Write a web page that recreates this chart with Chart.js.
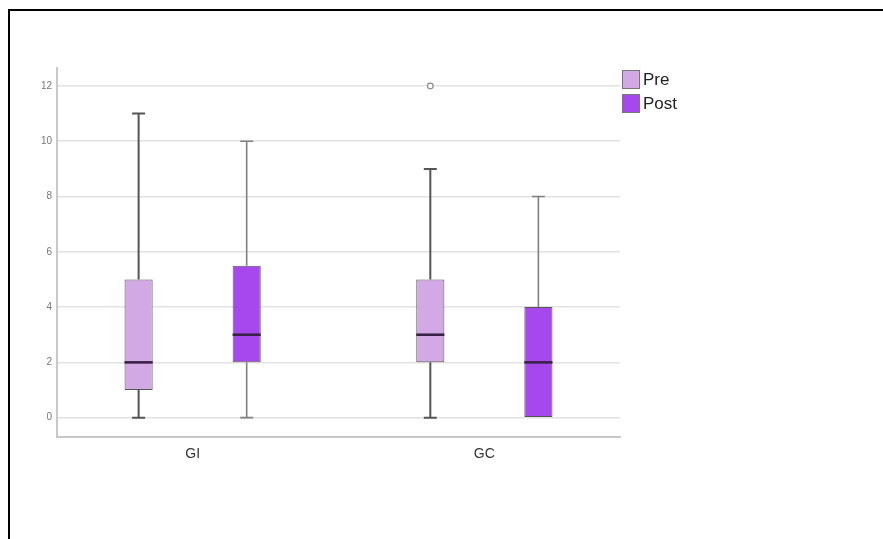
<!DOCTYPE html>
<html>
<head>
<meta charset="utf-8">
<script src="https://cdn.jsdelivr.net/npm/chart.js@4"></script>
<style>
  html, body { margin: 0; padding: 0; background: #fff; }
  #wrap { position: relative; width: 883px; height: 539px; overflow: hidden; }
  #frame { position: absolute; left: 8px; top: 9px; width: 900px; height: 600px;
           border-left: 2px solid #000; border-top: 2px solid #000; pointer-events: none; }
  canvas { position: absolute; left: 0; top: 0; }
</style>
</head>
<body>
<div id="wrap">
  <canvas id="boxChart" width="883" height="539"></canvas>
  <div id="frame"></div>
</div>
<script>
// Données
const groupes = ['GI', 'GC'];
const positions = [1, 2];
const yTicks = [0, 2, 4, 6, 8, 10, 12];

const preMin = [0, 0];
const preQ1 = [1, 2];
const preMedian = [2, 3];
const preQ3 = [5, 5];
const preMax = [11, 9];
const preOutliers = [[], [12]];

const postMin = [0, 0];
const postQ1 = [2, 0];
const postMedian = [3, 2];
const postQ3 = [5.5, 4];
const postMax = [10, 8];
const postOutliers = [[], []];

const fontFamily = '"Liberation Sans", Arial, sans-serif';

function boxData(q1, q3) {
    return positions.map((x, i) => ({ x: x, y: [q1[i], q3[i]] }));
}

// Moustaches, médianes, valeurs aberrantes
const boxplotPlugin = {
    id: 'boxplot',
    beforeDatasetsDraw(chart) {
        const ctx = chart.ctx;
        const y = chart.scales.y;
        chart.data.datasets.forEach((ds, d) => {
            const meta = chart.getDatasetMeta(d);
            meta.data.forEach((bar, i) => {
                const x = bar.x;
                const cap = 13;
                ctx.save();
                ctx.strokeStyle = ds.whiskerColor;
                ctx.lineWidth = ds.whiskerWidth;
                const yMax = y.getPixelForValue(ds.whiskerMax[i]);
                const yQ3 = y.getPixelForValue(ds.data[i].y[1]);
                const yQ1 = y.getPixelForValue(ds.data[i].y[0]);
                const yMin = y.getPixelForValue(ds.whiskerMin[i]);
                ctx.beginPath();
                ctx.moveTo(x, yMax); ctx.lineTo(x, yQ3);
                ctx.moveTo(x - cap / 2, yMax); ctx.lineTo(x + cap / 2, yMax);
                if (ds.whiskerMin[i] < ds.data[i].y[0]) {
                    ctx.moveTo(x, yQ1); ctx.lineTo(x, yMin);
                    ctx.moveTo(x - cap / 2, yMin); ctx.lineTo(x + cap / 2, yMin);
                }
                ctx.stroke();
                ctx.restore();
            });
        });
    },
    afterDatasetsDraw(chart) {
        const ctx = chart.ctx;
        const y = chart.scales.y;
        chart.data.datasets.forEach((ds, d) => {
            const meta = chart.getDatasetMeta(d);
            meta.data.forEach((bar, i) => {
                const x = bar.x;
                const w = bar.width;
                const ym = y.getPixelForValue(ds.medians[i]);
                ctx.save();
                ctx.strokeStyle = '#3a2148';
                ctx.lineWidth = 2.6;
                ctx.beginPath();
                ctx.moveTo(x - w / 2, ym); ctx.lineTo(x + w / 2, ym);
                ctx.stroke();
                ds.outliers[i].forEach(v => {
                    ctx.beginPath();
                    ctx.arc(x, y.getPixelForValue(v), 2.8, 0, Math.PI * 2);
                    ctx.fillStyle = '#fff';
                    ctx.fill();
                    ctx.strokeStyle = '#888';
                    ctx.lineWidth = 1.2;
                    ctx.stroke();
                });
                ctx.restore();
            });
        });
    },
    afterDraw(chart) {
        // Légende à droite, en haut
        const ctx = chart.ctx;
        const area = chart.chartArea;
        const x0 = area.right + 2;
        let y0 = area.top + 2;
        ctx.save();
        ctx.font = '17px ' + fontFamily;
        ctx.textBaseline = 'middle';
        chart.data.datasets.forEach(ds => {
            ctx.fillStyle = ds.backgroundColor;
            ctx.fillRect(x0, y0, 17, 18);
            ctx.strokeStyle = '#777';
            ctx.lineWidth = 1;
            ctx.strokeRect(x0 + 0.5, y0 + 0.5, 17, 18);
            ctx.fillStyle = '#222';
            ctx.fillText(ds.label, x0 + 21, y0 + 10);
            y0 += 24;
        });
        ctx.restore();
    }
};

document.addEventListener('DOMContentLoaded', () => {
    new Chart(document.getElementById('boxChart'), {
        type: 'bar',
        data: {
            datasets: [{
                label: 'Pre',
                data: boxData(preQ1, preQ3),
                backgroundColor: '#d2a9e5',
                borderColor: '#555',
                borderWidth: 1,
                borderSkipped: false,
                whiskerMin: preMin,
                whiskerMax: preMax,
                medians: preMedian,
                outliers: preOutliers,
                whiskerColor: '#555',
                whiskerWidth: 2
            }, {
                label: 'Post',
                data: boxData(postQ1, postQ3),
                backgroundColor: '#a747ee',
                borderColor: '#555',
                borderWidth: 1,
                borderSkipped: false,
                whiskerMin: postMin,
                whiskerMax: postMax,
                medians: postMedian,
                outliers: postOutliers,
                whiskerColor: '#808080',
                whiskerWidth: 1.6
            }]
        },
        options: {
            responsive: false,
            animation: false,
            categoryPercentage: 0.741,
            barPercentage: 0.26,
            layout: {
                padding: { left: 0, right: 263, top: 68, bottom: 0 }
            },
            plugins: {
                legend: { display: false },
                tooltip: { enabled: false }
            },
            scales: {
                x: {
                    type: 'linear',
                    offset: false,
                    min: 0.535,
                    max: 2.465,
                    afterBuildTicks: scale => {
                        scale.ticks = positions.map(v => ({ value: v }));
                    },
                    afterFit: scale => { scale.height = 102; },
                    grid: { display: false, drawTicks: false, offset: false },
                    border: { display: true, color: '#c8c8c8', width: 2 },
                    ticks: {
                        padding: 9,
                        color: '#333',
                        font: { family: fontFamily, size: 14 },
                        callback: (v) => groupes[positions.indexOf(v)]
                    }
                },
                y: {
                    min: -0.7,
                    max: 12.65,
                    afterBuildTicks: scale => {
                        scale.ticks = yTicks.map(v => ({ value: v }));
                    },
                    afterFit: scale => { scale.width = 57; },
                    grid: { color: '#e2e2e2', lineWidth: 1.5, drawTicks: false },
                    border: { display: true, color: '#c8c8c8', width: 2 },
                    ticks: {
                        padding: 5,
                        color: '#777',
                        font: { family: fontFamily, size: 10 }
                    }
                }
            }
        },
        plugins: [boxplotPlugin]
    });
});
</script>
</body>
</html>
